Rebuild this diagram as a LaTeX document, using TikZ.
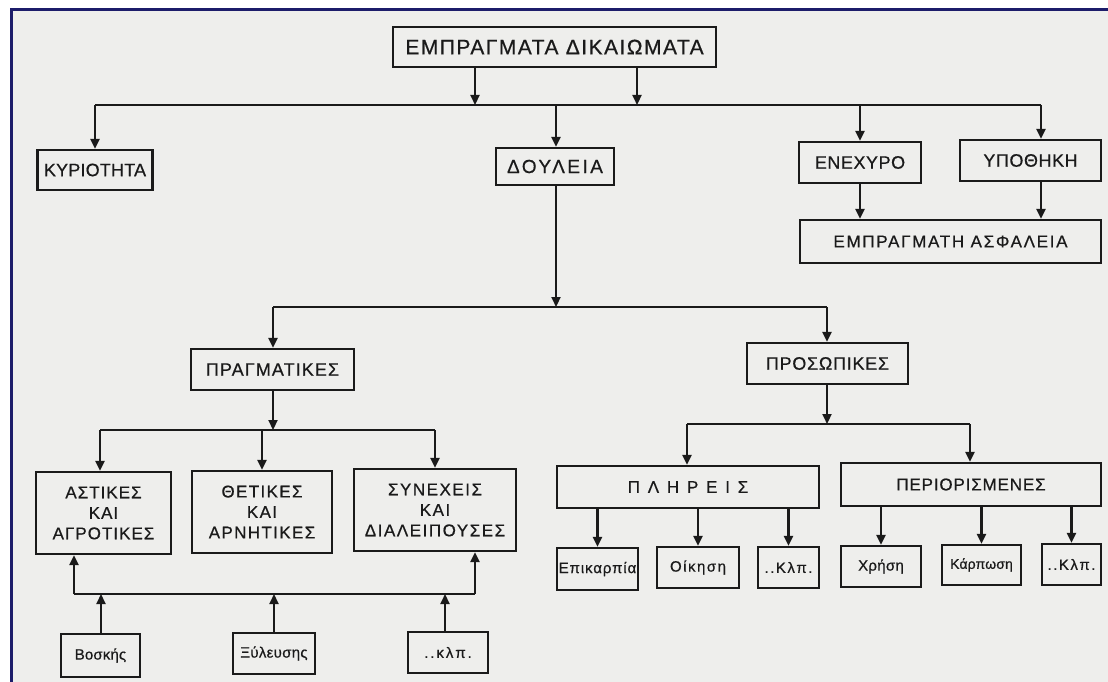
\documentclass[tikz,border=0pt]{standalone}
\usepackage{fontspec}
\setmainfont{Liberation Sans}[FakeBold=0.6]
\usetikzlibrary{arrows.meta}

\definecolor{ink}{HTML}{1A1A1A}
\definecolor{paper}{HTML}{EEEEEC}
\definecolor{frame}{HTML}{1C1C6A}

% size (pt) and letter spacing for a label
\newcommand\lblfont[2]{\fontsize{#1}{20.5}\selectfont\addfontfeatures{LetterSpace=#2}}

\tikzset{
  box/.style={draw=ink, line width=2.2pt, fill=paper, inner sep=0pt, align=center, text=ink},
  wire/.style={draw=ink, line width=2.2pt},
  arr/.style={wire, -{Triangle[length=10pt,width=9pt]}},
}

\begin{document}
\begin{tikzpicture}[x=1pt,y=-1pt]
\useasboundingbox (0,0) rectangle (1108,682);
\fill[white] (0,0) rectangle (1108,682);
\fill[paper] (11,10) rectangle (1108,682);
\draw[frame, line width=3pt] (11,682) -- (11,10) -- (1108,10);

% ---- top level
\node[box, minimum width=323pt, minimum height=40pt, font=\lblfont{21}{7}] (root) at (554.5,47) {ΕΜΠΡΑΓΜΑΤΑ ΔΙΚΑΙΩΜΑΤΑ};

\node[box, minimum width=115pt, minimum height=40pt, font=\lblfont{18}{1}] (kyr) at (95,170) {ΚΥΡΙΟΤΗΤΑ};
\node[box, minimum width=118pt, minimum height=37pt, font=\lblfont{19}{13}] (doul) at (555,166.5) {ΔΟΥΛΕΙΑ};
\node[box, minimum width=122pt, minimum height=41pt, font=\lblfont{18}{3}] (enex) at (860,162.5) {ΕΝΕΧΥΡΟ};
\node[box, minimum width=141pt, minimum height=41pt, font=\lblfont{18}{3}] (ypoth) at (1030.5,160.5) {ΥΠΟΘΗΚΗ};
\node[box, minimum width=301pt, minimum height=43pt, font=\lblfont{17}{10}] (asfal) at (950.5,241.5) {ΕΜΠΡΑΓΜΑΤΗ ΑΣΦΑΛΕΙΑ};

% ---- servitudes
\node[box, minimum width=163pt, minimum height=41pt, font=\lblfont{18}{6}] (pragm) at (272.5,369.5) {ΠΡΑΓΜΑΤΙΚΕΣ};
\node[box, minimum width=161pt, minimum height=41pt, font=\lblfont{18}{4}] (pros) at (827.5,363.5) {ΠΡΟΣΩΠΙΚΕΣ};

\node[box, minimum width=135pt, minimum height=82pt, font=\lblfont{17}{6}] (ast) at (103.5,513) {ΑΣΤΙΚΕΣ\\ΚΑΙ\\ΑΓΡΟΤΙΚΕΣ};
\node[box, minimum width=140pt, minimum height=82pt, font=\lblfont{17}{8}] (thet) at (262,512) {ΘΕΤΙΚΕΣ\\ΚΑΙ\\ΑΡΝΗΤΙΚΕΣ};
\node[box, minimum width=162pt, minimum height=82pt, font=\lblfont{17}{9}] (syn) at (435,510) {ΣΥΝΕΧΕΙΣ\\ΚΑΙ\\ΔΙΑΛΕΙΠΟΥΣΕΣ};

\node[box, minimum width=79pt, minimum height=43pt, font=\lblfont{15}{1}] (vosk) at (100.5,655.5) {Βοσκής};
\node[box, minimum width=82pt, minimum height=41pt, font=\lblfont{15}{2}] (xyl) at (274,653.5) {Ξύλευσης};
\node[box, minimum width=80pt, minimum height=41pt, font=\lblfont{15}{13}] (klpa) at (448,652.5) {..κλπ.};

\node[box, minimum width=262pt, minimum height=42pt, font=\lblfont{17}{18}] (pl) at (688,487) {Π Λ Η Ρ Ε Ι Σ};
\node[box, minimum width=260pt, minimum height=43pt, font=\lblfont{17}{5}] (per) at (971,484.5) {ΠΕΡΙΟΡΙΣΜΕΝΕΣ};

\node[box, minimum width=81pt, minimum height=42pt, font=\lblfont{15}{6}] (epik) at (597.5,569) {Επικαρπία};
\node[box, minimum width=82pt, minimum height=41pt, font=\lblfont{15}{10}] (oik) at (698,567.5) {Οίκηση};
\node[box, minimum width=61pt, minimum height=41pt, font=\lblfont{15}{10}] (klpb) at (788.5,567.5) {..Κλπ.};
\node[box, minimum width=80pt, minimum height=41pt, font=\lblfont{15}{2}] (xri) at (881,566.5) {Χρήση};
\node[box, minimum width=79pt, minimum height=40pt, font=\lblfont{14}{1}] (karp) at (981.5,565) {Κάρπωση};
\node[box, minimum width=59pt, minimum height=41pt, font=\lblfont{15}{10}] (klpc) at (1071.5,564.5) {..Κλπ.};

% ---- junction points on the distribution lines
\coordinate (ja) at (95,105);
\coordinate (jb) at (475,105);
\coordinate (jc) at (556,105);
\coordinate (jd) at (637,105);
\coordinate (je) at (860,105);
\coordinate (jf) at (1041,105);

\coordinate (ka) at (273,307);
\coordinate (kb) at (556,307);
\coordinate (kc) at (827,307);

\coordinate (la) at (100,430);
\coordinate (lb) at (262,430);
\coordinate (lc) at (273,430);
\coordinate (ld) at (435,430);

\coordinate (ma) at (74,594);
\coordinate (mb) at (101,594);
\coordinate (mc) at (274,594);
\coordinate (md) at (445,594);
\coordinate (me) at (475,594);

\coordinate (na) at (687,424);
\coordinate (nb) at (827,424);
\coordinate (nc) at (970,424);

% ---- first level
\draw[wire] (ja) -- (jf);
\draw[arr] (root.south -| jb) -- (jb);
\draw[arr] (root.south -| jd) -- (jd);
\draw[arr] (ja) -- (kyr.north -| ja);
\draw[arr] (jc) -- (doul.north -| jc);
\draw[arr] (je) -- (enex.north -| je);
\draw[arr] (jf) -- (ypoth.north -| jf);
\draw[arr] (enex.south) -- (asfal.north -| enex.south);
\draw[arr] (ypoth.south -| jf) -- (asfal.north -| jf);

% ---- servitudes
\draw[arr] (doul.south -| kb) -- (kb);
\draw[wire] (ka) -- (kc);
\draw[arr] (ka) -- (pragm.north -| ka);
\draw[arr] (kc) -- (pros.north -| kc);

% ---- real servitudes
\draw[arr] (pragm.south -| lc) -- (lc);
\draw[wire] (la) -- (ld);
\draw[arr] (la) -- (ast.north -| la);
\draw[arr] (lb) -- (thet.north -| lb);
\draw[arr] (ld) -- (syn.north -| ld);

\draw[wire] (ma) -- (me);
\draw[arr] (ma) -- (ast.south -| ma);
\draw[arr] (me) -- (syn.south -| me);
\draw[arr] (vosk.north -| mb) -- (mb);
\draw[arr] (xyl.north -| mc) -- (mc);
\draw[arr] (klpa.north -| md) -- (md);

% ---- personal servitudes
\draw[arr] (pros.south -| nb) -- (nb);
\draw[wire] (na) -- (nc);
\draw[arr] (na) -- (pl.north -| na);
\draw[arr] (nc) -- (per.north -| nc);

\draw[arr] (pl.south -| epik.north) -- (epik.north);
\draw[arr] (pl.south -| oik.north) -- (oik.north);
\draw[arr] (pl.south -| klpb.north) -- (klpb.north);
\draw[arr] (per.south -| xri.north) -- (xri.north);
\draw[arr] (per.south -| karp.north) -- (karp.north);
\draw[arr] (per.south -| klpc.north) -- (klpc.north);
\end{tikzpicture}
\end{document}
